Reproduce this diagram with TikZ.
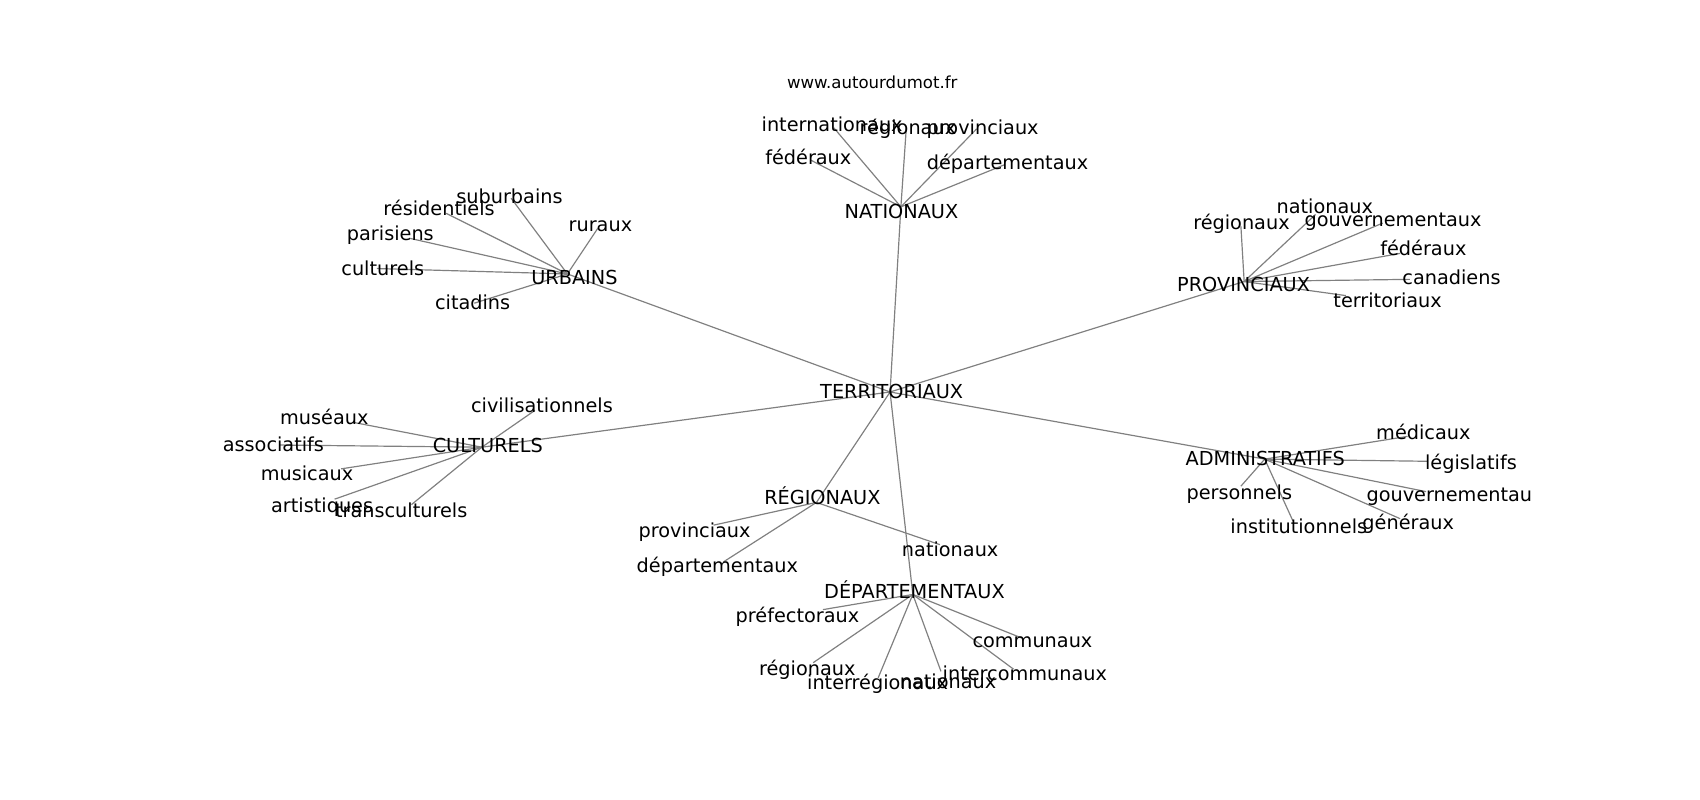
\documentclass[tikz,border=0pt]{standalone}
\usepackage{fontspec}
\setmainfont{DejaVu Sans}
\definecolor{linegray}{RGB}{128,128,128}
\begin{document}
\begin{tikzpicture}[x=1pt,y=-1pt,
  lbl/.style={inner sep=0pt, text height=0.73em, text depth=0pt, xshift=1.5pt, yshift=-3.5pt, font=\fontsize{17.8}{20}\selectfont},
  ttl/.style={inner sep=0pt, text height=0.73em, text depth=0pt, xshift=0.5pt, yshift=-1.5pt, font=\fontsize{15.3}{18}\selectfont},
  edge/.style={draw=linegray, line width=1.1pt}]
\useasboundingbox (0,0) rectangle (1570,738.8);
% node positions
\coordinate (T) at (822,362);
\coordinate (N) at (832,191);
\coordinate (n1) at (770,118);
\coordinate (n2) at (837,118);
\coordinate (n3) at (902,119);
\coordinate (n4) at (749,148);
\coordinate (n5) at (928,152);
\coordinate (U) at (524,253);
\coordinate (u1) at (472,183);
\coordinate (u2) at (412,197);
\coordinate (u3) at (378,220);
\coordinate (u4) at (348,248);
\coordinate (u5) at (552,211);
\coordinate (u6) at (438,280);
\coordinate (P) at (1149,260);
\coordinate (p1) at (1146,209);
\coordinate (p2) at (1215,198);
\coordinate (p3) at (1277,206);
\coordinate (p4) at (1293,234);
\coordinate (p5) at (1302,258);
\coordinate (p6) at (1243,273);
\coordinate (C) at (445,413);
\coordinate (c1) at (494,379);
\coordinate (c2) at (326,390);
\coordinate (c3) at (258,411);
\coordinate (c4) at (315,433);
\coordinate (c5) at (309,461);
\coordinate (c6) at (380,466);
\coordinate (A) at (1168,424);
\coordinate (a1) at (1300,403);
\coordinate (a2) at (1318,426);
\coordinate (a3) at (1317,454);
\coordinate (a4) at (1293,479);
\coordinate (a5) at (1146,449);
\coordinate (a6) at (1194,481);
\coordinate (R) at (754,464);
\coordinate (r1) at (659,485);
\coordinate (r2) at (668,519);
\coordinate (r3) at (868,503);
\coordinate (D) at (843,549);
\coordinate (d1) at (760,563);
\coordinate (d2) at (751,612);
\coordinate (d3) at (811,626);
\coordinate (d4) at (869,620);
\coordinate (d5) at (943,589);
\coordinate (d6) at (936,618);
% edges
\foreach \x in {N,U,P,C,A,R,D} \draw[edge] (T) -- (\x);
\foreach \x in {n1,n2,n3,n4,n5} \draw[edge] (N) -- (\x);
\foreach \x in {u1,u2,u3,u4,u5,u6} \draw[edge] (U) -- (\x);
\foreach \x in {p1,p2,p3,p4,p5,p6} \draw[edge] (P) -- (\x);
\foreach \x in {c1,c2,c3,c4,c5,c6} \draw[edge] (C) -- (\x);
\foreach \x in {a1,a2,a3,a4,a5,a6} \draw[edge] (A) -- (\x);
\foreach \x in {r1,r2,r3} \draw[edge] (R) -- (\x);
\foreach \x in {d1,d2,d3,d4,d5,d6} \draw[edge] (D) -- (\x);
% labels
\node[ttl] (title) at (805,77) {www.autourdumot.fr};
\node[lbl] (T-t) at (822,361) {TERRITORIAUX};
\node[lbl] (N-t) at (831,195) {NATIONAUX};
\node[lbl] (n1-t) at (767,114) {internationaux};
\node[lbl] (n2-t) at (837,117) {régionaux};
\node[lbl] (n3-t) at (906,117) {provinciaux};
\node[lbl] (n4-t) at (745,145) {fédéraux};
\node[lbl] (n5-t) at (929,149) {départementaux};
\node[lbl] (U-t) at (529,256) {URBAINS};
\node[lbl] (u1-t) at (469,181) {suburbains};
\node[lbl] (u2-t) at (404,192) {résidentiels};
\node[lbl] (u3-t) at (359,215) {parisiens};
\node[lbl] (u4-t) at (352,247) {culturels};
\node[lbl] (u5-t) at (553,207) {ruraux};
\node[lbl] (u6-t) at (435,279) {citadins};
\node[lbl] (P-t) at (1147,262) {PROVINCIAUX};
\node[lbl] (p1-t) at (1145,205) {régionaux};
\node[lbl] (p2-t) at (1222,190) {nationaux};
\node[lbl] (p3-t) at (1285,202) {gouvernementaux};
\node[lbl] (p4-t) at (1313,229) {fédéraux};
\node[lbl] (p5-t) at (1339,256) {canadiens};
\node[lbl] (p6-t) at (1280,277) {territoriaux};
\node[lbl] (C-t) at (449,411) {CULTURELS};
\node[lbl] (c1-t) at (499,374) {civilisationnels};
\node[lbl] (c2-t) at (298,385) {muséaux};
\node[lbl] (c3-t) at (251,410) {associatifs};
\node[lbl] (c4-t) at (282,437) {musicaux};
\node[lbl] (c5-t) at (296,466) {artistiques};
\node[lbl] (c6-t) at (369,471) {transculturels};
\node[lbl] (A-t) at (1167,423) {ADMINISTRATIFS};
\node[lbl] (a1-t) at (1313,399) {médicaux};
\node[lbl] (a2-t) at (1357,426) {législatifs};
\node[lbl] (a3-t) at (1337,456) {gouvernementau};
\node[lbl] (a4-t) at (1299,482) {généraux};
\node[lbl] (a5-t) at (1143,454) {personnels};
\node[lbl] (a6-t) at (1198,486) {institutionnels};
\node[lbl] (R-t) at (758,459) {RÉGIONAUX};
\node[lbl] (r1-t) at (640,489) {provinciaux};
\node[lbl] (r2-t) at (661,522) {départementaux};
\node[lbl] (r3-t) at (876,507) {nationaux};
\node[lbl] (D-t) at (843,546) {DÉPARTEMENTAUX};
\node[lbl] (d1-t) at (735,568) {préfectoraux};
\node[lbl] (d2-t) at (744,617) {régionaux};
\node[lbl] (d3-t) at (809,630) {interrégionaux};
\node[lbl] (d4-t) at (874,629) {nationaux};
\node[lbl] (d5-t) at (952,591) {communaux};
\node[lbl] (d6-t) at (945,621) {intercommunaux};
\end{tikzpicture}
\end{document}
